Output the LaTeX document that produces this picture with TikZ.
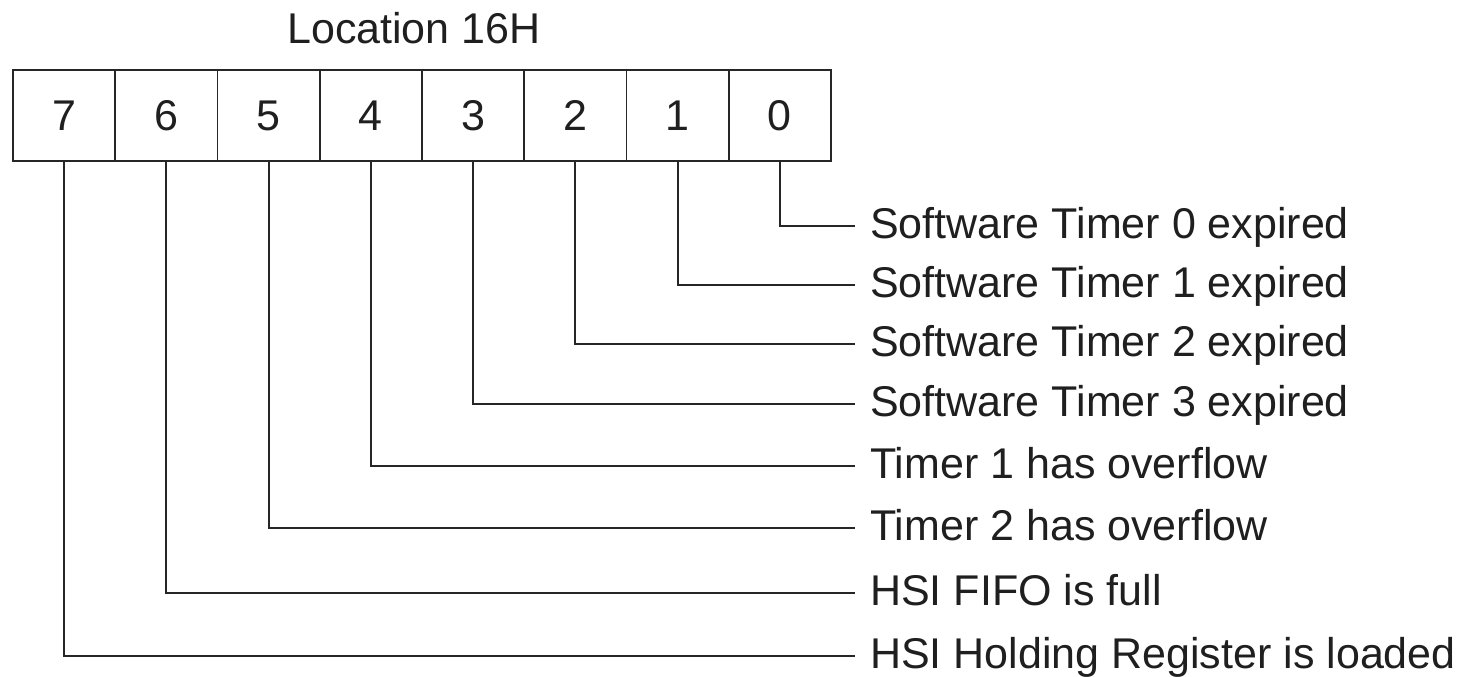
\documentclass[tikz,border=0pt]{standalone}
\usepackage{fontspec}
\setmainfont{Liberation Sans}
\begin{document}
\begin{tikzpicture}[x=1pt,y=-1pt,
  every node/.style={font=\fontsize{43}{50}\selectfont, text=black!88},
  bitcell/.style={draw=black!85, line width=1.8pt, minimum width=102.25pt, minimum height=91pt, inner sep=0pt, anchor=center},
  flaglabel/.style={anchor=west, inner xsep=15pt, inner ysep=0pt, text height=25pt, text depth=0pt},
  wire/.style={draw=black!85, line width=1.8pt}]
\useasboundingbox (0,0) rectangle (1464,677);
\node[anchor=base west, inner sep=0pt] (title) at (287,44) {Location 16H};
\foreach \b [count=\i from 0] in {7,6,5,4,3,2,1,0} {
  \node[bitcell] (b\b) at ({13+102.25*(\i+0.5)},115.5) {\b};
}
\node[flaglabel] (l0) at (855,226) {Software Timer 0 expired};
\node[flaglabel] (l1) at (855,285) {Software Timer 1 expired};
\node[flaglabel] (l2) at (855,344) {Software Timer 2 expired};
\node[flaglabel] (l3) at (855,404) {Software Timer 3 expired};
\node[flaglabel] (l4) at (855,466) {Timer 1 has overflow};
\node[flaglabel] (l5) at (855,528) {Timer 2 has overflow};
\node[flaglabel] (l6) at (855,593) {HSI FIFO is full};
\node[flaglabel] (l7) at (855,656) {HSI Holding Register is loaded};
\foreach \b in {0,...,7} {
  \draw[wire] (b\b.south) |- (l\b.west);
}
\end{tikzpicture}
\end{document}
